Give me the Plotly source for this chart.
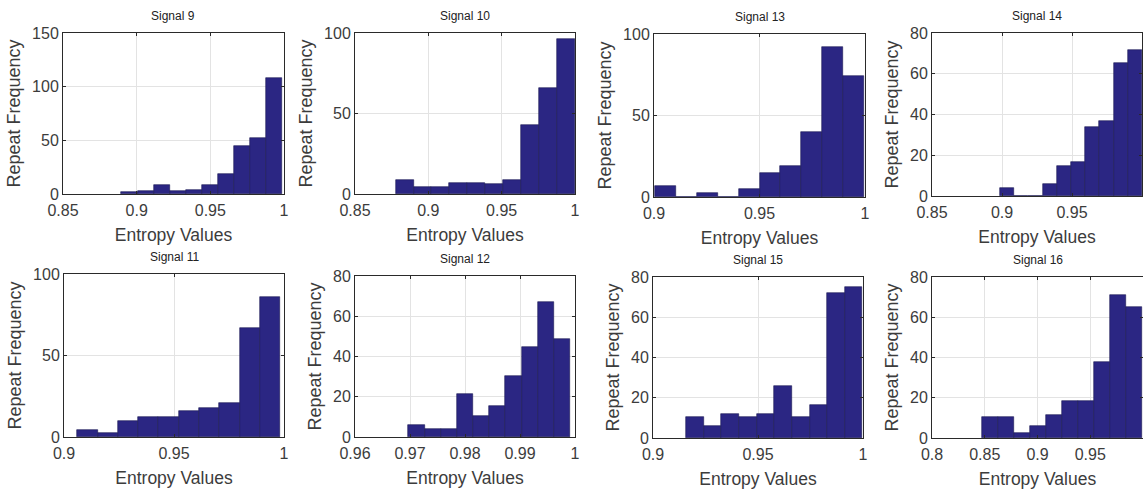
import numpy as np
import plotly.graph_objects as go

# Histogram counts per signal (10 equal-width bins between bin_lo and bin_hi)
titles = ["Signal 9", "Signal 10", "Signal 13", "Signal 14",
          "Signal 11", "Signal 12", "Signal 15", "Signal 16"]

sig9_counts = [2, 3, 8, 3, 4, 8, 19, 45, 52, 108]
sig10_counts = [8.5, 4.5, 4.5, 7, 7, 6, 8.5, 43, 66, 96]
sig13_counts = [6.5, 0, 2.5, 0, 5, 15, 19, 40, 92, 74]
sig14_counts = [4, 0, 0, 6, 14.5, 16.5, 34, 37, 65.5, 71.5]
sig11_counts = [4.5, 2.5, 10, 12, 12, 16, 18, 21, 67, 86]
sig12_counts = [6, 4, 4, 21.5, 10.5, 15.5, 30.5, 44.5, 67, 48.5]
sig15_counts = [10.5, 6, 12, 10.5, 12, 26, 10.5, 16.5, 72, 75]
sig16_counts = [10.5, 10.5, 2.5, 6, 11.5, 18.5, 18.5, 38, 71, 65]

bin_lo = [0.8897, 0.8777, 0.9005, 0.8986, 0.9061, 0.9697, 0.9158, 0.8472]
bin_hi = [0.9987, 0.9999, 0.9995, 1.0000, 0.9982, 0.9991, 0.9997, 0.9990]

x_ranges = [[0.85, 1], [0.85, 1], [0.9, 1], [0.85, 1],
            [0.9, 1], [0.96, 1], [0.9, 1], [0.8, 1]]
x_ticks = [[0.85, 0.9, 0.95, 1], [0.85, 0.9, 0.95, 1], [0.9, 0.95, 1],
           [0.85, 0.9, 0.95, 1], [0.9, 0.95, 1],
           [0.96, 0.97, 0.98, 0.99, 1], [0.9, 0.95, 1],
           [0.8, 0.85, 0.9, 0.95, 1]]
y_ranges = [[0, 150], [0, 100], [0, 100], [0, 80],
            [0, 100], [0, 80], [0, 80], [0, 80]]
y_dtick = [50, 50, 50, 20, 50, 20, 20, 20]

counts = [sig9_counts, sig10_counts, sig13_counts, sig14_counts,
          sig11_counts, sig12_counts, sig15_counts, sig16_counts]

# Panel boxes in pixels: (left, right, top, bottom)
W, H = 1143, 491
boxes = [(63, 284, 33, 194), (355, 575, 33, 194), (654, 865, 34, 197),
         (932, 1142, 33, 196),
         (64, 284, 274, 437), (355, 575, 276, 437), (653, 863, 277, 438),
         (932, 1144, 277, 438)]

BAR = "#2b2683"
TEXT = "#3c3c3c"
FONT = "Liberation Sans, Arial, sans-serif"

fig = go.Figure()
annotations = []

for i in range(8):
    n = i + 1
    xa = "x" if n == 1 else f"x{n}"
    ya = "y" if n == 1 else f"y{n}"
    edges = np.linspace(bin_lo[i], bin_hi[i], len(counts[i]) + 1)
    centers = (edges[:-1] + edges[1:]) / 2
    width = edges[1] - edges[0]
    fig.add_trace(go.Bar(
        x=centers, y=counts[i], width=width,
        marker=dict(color=BAR, line=dict(color="#1a1850", width=0.6)),
        xaxis=xa, yaxis=ya, showlegend=False,
    ))

    l, r, t, b = boxes[i]
    dom_x = [l / W, min(r / W, 1.0)]
    dom_y = [1 - b / H, 1 - t / H]
    axis_common = dict(
        showgrid=True, gridcolor="#e3e3e3", gridwidth=1,
        showline=True, linecolor="#2a2a2a", linewidth=1, mirror="ticks",
        ticks="inside", ticklen=3, tickcolor="#2a2a2a",
        tickfont=dict(family=FONT, size=16, color=TEXT),
        zeroline=False, automargin=False,
    )
    fig.layout[f"xaxis{'' if n == 1 else n}"] = dict(
        axis_common, domain=dom_x, range=x_ranges[i], tickvals=x_ticks[i],
        ticktext=[f"{v:g}" for v in x_ticks[i]], anchor=ya,
        ticklabelstandoff=2,
        title=dict(text="Entropy Values", standoff=10,
                   font=dict(family=FONT, size=17.5, color=TEXT)),
    )
    fig.layout[f"yaxis{'' if n == 1 else n}"] = dict(
        axis_common, domain=dom_y, range=y_ranges[i], dtick=y_dtick[i],
        anchor=xa, ticklabelstandoff=0,
        title=dict(text="Repeat Frequency", standoff=6,
                   font=dict(family=FONT, size=18, color=TEXT)),
    )
    annotations.append(dict(
        text=titles[i], xref="paper", yref="paper",
        x=(l + min(r, W)) / 2 / W, y=1 - (t - 17) / H,
        xanchor="center", yanchor="middle", showarrow=False,
        font=dict(family=FONT, size=12, color="#222222"),
    ))

fig.update_layout(
    width=W, height=H,
    margin=dict(l=0, r=0, t=0, b=0),
    paper_bgcolor="white", plot_bgcolor="white",
    bargap=0, annotations=annotations,
)

fig.write_html("out.html")
